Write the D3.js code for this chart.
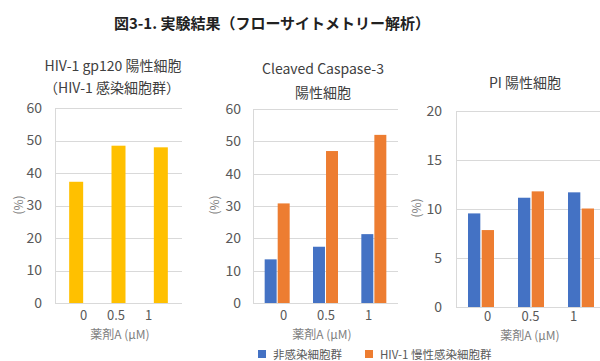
<!DOCTYPE html>
<html>
<head>
<meta charset="utf-8">
<script src="https://cdn.jsdelivr.net/npm/d3@7"></script>
<style>
  html, body { margin: 0; padding: 0; background: #fff; }
  svg { display: block; font-family: "Noto Sans CJK JP", "Noto Sans", sans-serif; }
</style>
</head>
<body>
<svg id="chart" width="600" height="361"></svg>
<script>
// Drug A concentrations (µM)
const doses = ["0", "0.5", "1"];

// HIV-1 gp120 positive cells (infected population), %
const gp120Positive = [37.3, 48.4, 47.9];

// Cleaved Caspase-3 positive cells, %
const caspaseUninfected = [13.5, 17.4, 21.3];
const caspaseInfected = [30.8, 47.0, 52.0];

// PI positive cells, %
const piUninfected = [9.55, 11.15, 11.7];
const piInfected = [7.85, 11.8, 10.05];

const seriesNames = ["非感染細胞群", "HIV-1 慢性感染細胞群"];
const yTicksGp120 = [0, 10, 20, 30, 40, 50, 60];
const yTicksCaspase = [0, 10, 20, 30, 40, 50, 60];
const yTicksPI = [0, 5, 10, 15, 20];

const colors = { uninfected: "#4472c4", infected: "#ed7d31", single: "#ffc000" };
const gridColor = "#d9d9d9";
const tickColor = "#595959";

const svg = d3.select("#chart");

svg.append("text")
  .attr("x", 272).attr("y", 22)
  .attr("text-anchor", "middle").attr("dominant-baseline", "central")
  .attr("font-size", 15).attr("font-weight", "bold").attr("fill", "#222")
  .text("図3-1. 実験結果（フローサイトメトリー解析）");

function drawPanel(cfg) {
  const g = svg.append("g");
  const y = d3.scaleLinear().domain([0, cfg.max]).range([cfg.bottom, cfg.top]);
  const x = d3.scaleBand().domain(doses).range([cfg.left, cfg.right]).paddingInner(0).paddingOuter(0);

  // horizontal gridlines
  g.selectAll("line.grid").data(cfg.ticks).join("line")
    .attr("class", "grid")
    .attr("x1", cfg.left).attr("x2", cfg.right)
    .attr("y1", d => Math.round(y(d)) + 0.5).attr("y2", d => Math.round(y(d)) + 0.5)
    .attr("stroke", gridColor).attr("stroke-width", 1);
  // vertical axis line
  g.append("line")
    .attr("x1", cfg.left + 0.5).attr("x2", cfg.left + 0.5)
    .attr("y1", cfg.top).attr("y2", cfg.bottom)
    .attr("stroke", gridColor);

  // y axis labels
  const yAxis = g.append("g")
    .attr("transform", `translate(${cfg.left},0)`)
    .call(d3.axisLeft(y).tickValues(cfg.ticks).tickSize(0).tickPadding(cfg.tickPad));
  yAxis.select(".domain").remove();
  yAxis.selectAll("text").attr("font-size", 14).attr("fill", tickColor)
    .attr("font-family", "'Noto Sans CJK JP', 'Noto Sans', sans-serif");

  // bars
  const inner = d3.scaleBand().domain(d3.range(cfg.series.length))
    .range([0, cfg.groupWidth]).paddingInner(cfg.gap);
  cfg.series.forEach((s, si) => {
    g.selectAll(null).data(s.values).join("rect")
      .attr("x", (d, i) => x(doses[i]) + x.bandwidth() / 2 - cfg.groupWidth / 2 + inner(si))
      .attr("width", inner.bandwidth())
      .attr("y", d => y(d))
      .attr("height", d => y(0) - y(d))
      .attr("fill", s.color);
  });

  // x axis labels
  const xl = d3.scalePoint().domain(doses).range(cfg.labelRange);
  const xAxis = g.append("g")
    .attr("transform", `translate(0,${cfg.labelY})`)
    .call(d3.axisBottom(xl).tickSize(0).tickPadding(0));
  xAxis.select(".domain").remove();
  xAxis.selectAll("text").attr("font-size", 13).attr("fill", tickColor)
    .attr("dy", "0.35em").attr("y", 0)
    .attr("font-family", "'Noto Sans CJK JP', 'Noto Sans', sans-serif");

  g.append("text")
    .attr("x", cfg.xTitle[0]).attr("y", cfg.xTitle[1])
    .attr("text-anchor", "middle").attr("dominant-baseline", "central")
    .attr("font-size", 12).attr("fill", "#7f7f7f")
    .text("薬剤A (μM)");

  g.append("text")
    .attr("transform", `translate(${cfg.yTitle[0]},${cfg.yTitle[1]}) rotate(-90)`)
    .attr("text-anchor", "middle").attr("dominant-baseline", "central")
    .attr("font-size", 12).attr("fill", "#7f7f7f")
    .text("(%)");

  cfg.title.forEach(t => {
    g.append("text")
      .attr("x", t[0]).attr("y", t[1])
      .attr("text-anchor", "middle").attr("dominant-baseline", "central")
      .attr("font-size", 14).attr("fill", "#404040")
      .text(t[2]);
  });
}

drawPanel({
  left: 55, right: 182, top: 108, bottom: 303, max: 60, ticks: yTicksGp120, tickPad: 13,
  series: [{ values: gp120Positive, color: colors.single }],
  groupWidth: 14, gap: 0,
  labelRange: [83, 148], labelY: 315,
  xTitle: [120, 333], yTitle: [17, 205],
  title: [[113, 65, "HIV-1 gp120 陽性細胞"], [112, 87, "（HIV-1 感染細胞群）"]]
});

drawPanel({
  left: 253, right: 398, top: 109, bottom: 303, max: 60, ticks: yTicksCaspase, tickPad: 12,
  series: [
    { values: caspaseUninfected, color: colors.uninfected },
    { values: caspaseInfected, color: colors.infected }
  ],
  groupWidth: 25, gap: 0.08,
  labelRange: [283, 368], labelY: 315,
  xTitle: [322, 333], yTitle: [213, 205],
  title: [[323, 68, "Cleaved Caspase-3"], [323, 92, "陽性細胞"]]
});

drawPanel({
  left: 456, right: 606, top: 111, bottom: 307, max: 20, ticks: yTicksPI, tickPad: 14,
  series: [
    { values: piUninfected, color: colors.uninfected },
    { values: piInfected, color: colors.infected }
  ],
  groupWidth: 26, gap: 0.1,
  labelRange: [487, 573], labelY: 316,
  xTitle: [530, 334], yTitle: [415, 208],
  title: [[525, 82, "PI 陽性細胞"]]
});

// legend
const legend = svg.append("g");
const legendItems = [
  { name: seriesNames[0], color: colors.uninfected, x: 258 },
  { name: seriesNames[1], color: colors.infected, x: 365 }
];
legendItems.forEach(item => {
  legend.append("rect").attr("x", item.x).attr("y", 350).attr("width", 8).attr("height", 8)
    .attr("fill", item.color);
  legend.append("text").attr("x", item.x + 15).attr("y", 353.5)
    .attr("dominant-baseline", "central").attr("font-size", 11.5).attr("fill", "#595959")
    .text(item.name);
});
</script>
</body>
</html>
